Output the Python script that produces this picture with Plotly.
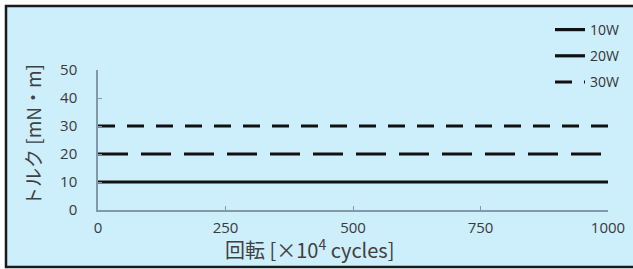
import plotly.graph_objects as go

cycles = [0, 1000]
series_names = ["10W", "20W", "30W"]
torque_10w = [10, 10]
torque_20w = [20, 20]
torque_30w = [30, 30]
x_ticks = [0, 250, 500, 750, 1000]
y_ticks = [0, 10, 20, 30, 40, 50]

W, H = 633, 269
L, R, T, B = 98, 25, 70, 59
pw, ph = W - L - R, H - T - B

def px_x(p):
    return (p - L) / pw

def px_y(p):
    return (H - B - p) / ph

fig = go.Figure()
styles = [("solid", torque_10w), ("30px,13px", torque_20w), ("17px,12px", torque_30w)]
for name, (dash, vals) in zip(series_names, styles):
    fig.add_trace(go.Scatter(x=cycles, y=vals, mode="lines", name=name, legendgroup=name,
                             line=dict(color="#111111", width=3.2, dash=dash)))

axis_col = "#8398ab"
tick_font = dict(size=15, color="#3a3a3a", family="Open Sans")
fig.update_layout(
    width=W, height=H,
    margin=dict(l=L, r=R, t=T, b=B, autoexpand=False),
    paper_bgcolor="white",
    plot_bgcolor="rgba(0,0,0,0)",
    font=dict(family="Open Sans, Noto Sans CJK JP", color="#404040"),
    showlegend=True,
    legend=dict(xref="container", yref="container", x=550 / W, y=1 - 14 / H,
                xanchor="left", yanchor="top",
                bgcolor="rgba(0,0,0,0)", font=dict(size=14, color="#333333"),
                tracegroupgap=5),
    xaxis=dict(range=[0, 1000], tickvals=x_ticks, showline=True, linecolor=axis_col,
               linewidth=1.5, ticks="inside", ticklen=4, tickcolor=axis_col,
               showgrid=False, zeroline=False, tickfont=tick_font,
               ticklabelstandoff=3),
    yaxis=dict(range=[0, 50], tickvals=y_ticks, showline=True, linecolor=axis_col,
               linewidth=1.5, ticks="inside", ticklen=4, tickcolor=axis_col,
               showgrid=False, zeroline=False, tickfont=tick_font,
               ticklabelstandoff=16),
    shapes=[dict(type="rect", xref="paper", yref="paper",
                 x0=px_x(6), x1=px_x(645), y0=px_y(267), y1=px_y(6),
                 fillcolor="#cdeefb", line=dict(color="#1a1a1a", width=2.5),
                 layer="below")],
    annotations=[
        dict(text="回転 [×10<sup>4</sup> cycles]", xref="paper", yref="paper",
             x=px_x(309), y=px_y(249), xanchor="center", yanchor="middle",
             showarrow=False,
             font=dict(size=20, color="#404040",
                       family="Noto Sans CJK JP, Open Sans")),
        dict(text="トルク [mN・m]", xref="paper", yref="paper",
             x=px_x(32), y=px_y(135), xanchor="center", yanchor="middle",
             showarrow=False, textangle=-90,
             font=dict(size=19, color="#404040",
                       family="Noto Sans CJK JP, Open Sans")),
    ],
)

fig.write_html("out.html", config={"displayModeBar": False},
               post_script="document.body.style.margin='0';document.body.style.overflow='hidden';")
